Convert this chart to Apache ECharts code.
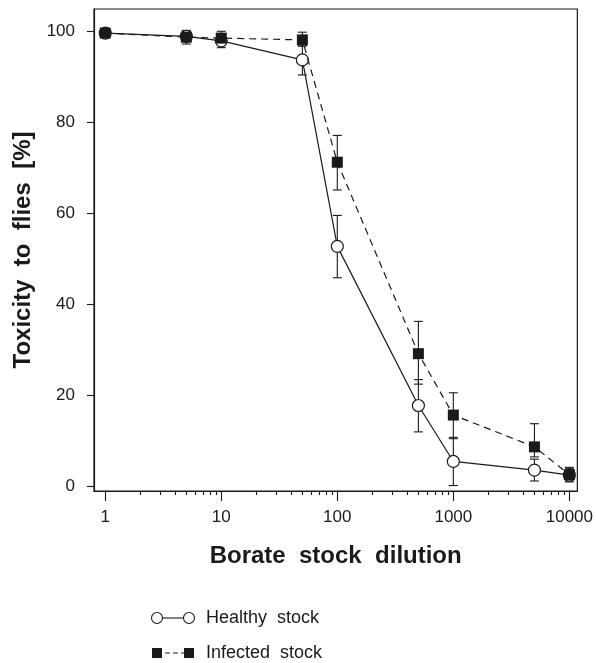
<!DOCTYPE html>
<html>
<head>
<meta charset="utf-8">
<script src="https://cdn.jsdelivr.net/npm/echarts@6/dist/echarts.min.js"></script>
<style>
  html, body { margin: 0; padding: 0; background: #fff; }
  #chart { width: 596px; height: 663px; }
</style>
</head>
<body>
<div id="chart"></div>
<script>
// dilution steps (x, log axis)
var dilutions = [1, 5, 10, 50, 100, 500, 1000, 5000, 10000];

// healthy stock: mean toxicity [%] and error range
var healthyMean = [99.7, 99.0, 98.0, 93.8, 52.8, 17.8, 5.5, 3.6, 2.5];
var healthyLow  = [99.2, 98.0, 96.5, 90.5, 45.9, 12.0, 0.2, 1.2, 1.0];
var healthyHigh = [100.2, 100.0, 99.5, 97.1, 59.6, 23.5, 10.8, 6.0, 4.0];

// infected stock
var infectedMean = [99.7, 98.8, 98.6, 98.2, 71.3, 29.2, 15.7, 8.7, 2.6];
var infectedLow  = [99.2, 97.3, 97.1, 96.8, 65.2, 22.5, 10.5, 6.5, 1.2];
var infectedHigh = [100.2, 100.3, 100.1, 99.9, 77.2, 36.3, 20.6, 13.8, 4.2];

var majorTicks = [1, 10, 100, 1000, 10000];
var minorTicks = [];
for (var d = 1; d < 10000; d *= 10) {
    for (var k = 2; k <= 9; k++) minorTicks.push(d * k);
}
var yTicks = [0, 20, 40, 60, 80, 100];

var ink = '#1a1a1a';
var font = '"Liberation Sans", Arial, sans-serif';

function pairs(xs, ys) {
    var out = [];
    for (var i = 0; i < xs.length; i++) out.push([xs[i], ys[i]]);
    return out;
}
function bars(xs, lo, hi) {
    var out = [];
    for (var i = 0; i < xs.length; i++) out.push([xs[i], lo[i], hi[i]]);
    return out;
}

function renderErrorBar(params, api) {
    var x = api.value(0);
    var lo = api.coord([x, api.value(1)]);
    var hi = api.coord([x, api.value(2)]);
    var cap = 4.5;
    var style = { stroke: ink, lineWidth: 1.1 };
    return {
        type: 'group',
        children: [
            { type: 'line', shape: { x1: lo[0], y1: lo[1], x2: hi[0], y2: hi[1] }, style: style },
            { type: 'line', shape: { x1: lo[0] - cap, y1: lo[1], x2: lo[0] + cap, y2: lo[1] }, style: style },
            { type: 'line', shape: { x1: hi[0] - cap, y1: hi[1], x2: hi[0] + cap, y2: hi[1] }, style: style }
        ]
    };
}

var chart = echarts.init(document.getElementById('chart'));

var option = {
    animation: false,
    backgroundColor: '#fff',
    grid: {
        left: 94, right: 18, top: 9, bottom: 172,
        show: true, borderColor: ink, borderWidth: 1.2
    },
    xAxis: [{
        type: 'log',
        min: 0.8, max: 11720,
        name: 'Borate  stock  dilution',
        nameLocation: 'middle',
        nameGap: 53,
        nameTextStyle: { fontFamily: font, fontSize: 24, fontWeight: 'bold', color: ink },
        axisLine: { show: true, onZero: false, lineStyle: { color: ink, width: 1.2 } },
        axisTick: { show: true, length: 10, lineStyle: { color: ink, width: 1.1 }, customValues: majorTicks },
        axisLabel: {
            fontFamily: font, fontSize: 17, color: ink, margin: 18, customValues: majorTicks,
            formatter: function (v) { return String(Math.round(v)); }
        },
        splitLine: { show: false },
        minorTick: { show: false }
    }, {
        type: 'log',
        min: 0.8, max: 11720,
        position: 'bottom',
        axisLine: { show: false, onZero: false },
        axisTick: { show: true, length: 4, lineStyle: { color: ink, width: 1.1 }, customValues: minorTicks },
        axisLabel: { show: false },
        splitLine: { show: false }
    }],
    yAxis: {
        type: 'value',
        min: -1, max: 105,
        name: 'Toxicity  to  flies  [%]',
        nameLocation: 'middle',
        nameGap: 58,
        nameTextStyle: { fontFamily: font, fontSize: 24, fontWeight: 'bold', color: ink },
        axisLine: { show: true, onZero: false, lineStyle: { color: ink, width: 1.2 } },
        axisTick: { show: true, length: 7, lineStyle: { color: ink, width: 1.1 }, customValues: yTicks },
        axisLabel: { fontFamily: font, fontSize: 17, color: ink, margin: 19, customValues: yTicks },
        splitLine: { show: false }
    },
    series: [
        {
            name: 'Healthy stock err',
            type: 'custom',
            renderItem: renderErrorBar,
            data: bars(dilutions, healthyLow, healthyHigh),
            z: 1
        },
        {
            name: 'Infected stock err',
            type: 'custom',
            renderItem: renderErrorBar,
            data: bars(dilutions, infectedLow, infectedHigh),
            z: 1
        },
        {
            name: 'Healthy stock',
            type: 'line',
            data: pairs(dilutions, healthyMean),
            symbol: 'circle',
            symbolSize: 12,
            lineStyle: { color: ink, width: 1.2, type: 'solid' },
            itemStyle: { color: '#fff', borderColor: ink, borderWidth: 1.2 },
            z: 3
        },
        {
            name: 'Infected stock',
            type: 'line',
            data: pairs(dilutions, infectedMean),
            symbol: 'rect',
            symbolSize: 11,
            lineStyle: { color: ink, width: 1.2, type: [7, 5] },
            itemStyle: { color: ink, borderColor: ink, borderWidth: 0 },
            z: 4
        }
    ],
    graphic: [
        // legend: healthy stock
        { type: 'line', shape: { x1: 157, y1: 618, x2: 189, y2: 618 }, style: { stroke: ink, lineWidth: 1.1 } },
        { type: 'circle', shape: { cx: 157, cy: 618, r: 5.5 }, style: { fill: '#fff', stroke: ink, lineWidth: 1.1 } },
        { type: 'circle', shape: { cx: 189, cy: 618, r: 5.5 }, style: { fill: '#fff', stroke: ink, lineWidth: 1.1 } },
        { type: 'text', x: 206, y: 618, style: { text: 'Healthy  stock', font: '18px ' + font, fill: ink, verticalAlign: 'middle' } },
        // legend: infected stock
        { type: 'line', shape: { x1: 157, y1: 653, x2: 189, y2: 653 }, style: { stroke: ink, lineWidth: 1.1, lineDash: [5, 3] } },
        { type: 'rect', shape: { x: 152, y: 648, width: 10, height: 10 }, style: { fill: ink } },
        { type: 'rect', shape: { x: 184, y: 648, width: 10, height: 10 }, style: { fill: ink } },
        { type: 'text', x: 206, y: 653, style: { text: 'Infected  stock', font: '18px ' + font, fill: ink, verticalAlign: 'middle' } }
    ]
};

chart.setOption(option);
</script>
</body>
</html>
